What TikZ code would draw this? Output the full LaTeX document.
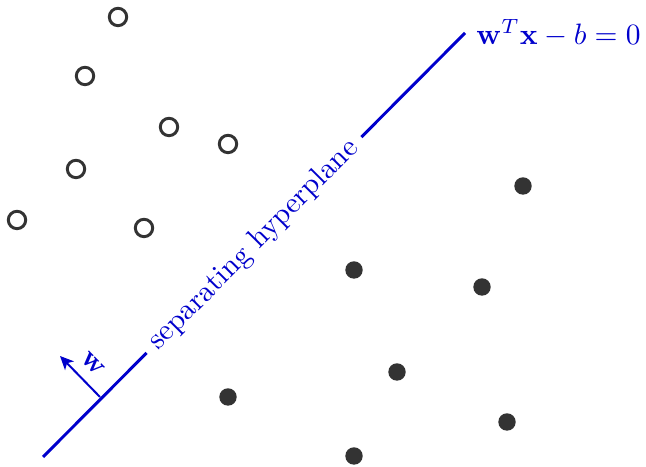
\documentclass[tikz,border=0pt]{standalone}
\usetikzlibrary{arrows.meta}
\definecolor{hyp}{RGB}{0,0,204}
\definecolor{ptc}{RGB}{51,51,51}
\begin{document}
\begin{tikzpicture}[x=0.339pt,y=-0.339pt,
  open/.style={circle,draw=ptc,line width=1pt,minimum size=5.9pt,inner sep=0pt},
  full/.style={circle,fill=ptc,minimum size=5.9pt,inner sep=0pt},
  hypline/.style={draw=hyp,line width=1pt},
  warrow/.style={draw=hyp,line width=0.68pt,-{Stealth[length=4.6pt,width=4.2pt,inset=1.2pt]}},
  lbl/.style={text=hyp}]
\useasboundingbox (0,0) rectangle (646,467);
% open points
\node[open] (o1) at (118,17) {};
\node[open] (o2) at (85,76) {};
\node[open] (o3) at (169,127) {};
\node[open] (o4) at (228,144) {};
\node[open] (o5) at (76,169) {};
\node[open] (o6) at (17,220) {};
\node[open] (o7) at (144,228) {};
% filled points
\node[full] (f1) at (523,186) {};
\node[full] (f2) at (354,270) {};
\node[full] (f3) at (482,287) {};
\node[full] (f4) at (397,372) {};
\node[full] (f5) at (228,397) {};
\node[full] (f6) at (507,422) {};
\node[full] (f7) at (354,456) {};
% hyperplane
\coordinate (h1) at (43,457);
\coordinate (h2) at (465,33);
\draw[hypline] (h1) -- node[sloped,fill=white,lbl] (hl) {separating hyperplane} (h2)
  node[right,lbl] (eq) {$\mathbf{w}^T\mathbf{x}-b=0$};
% normal vector
\coordinate (wf) at (100,397);
\coordinate (wt) at (60,356);
\draw[warrow] (wf) -- node[sloped,above,lbl] (wl) {$\mathbf{w}$} (wt);
\end{tikzpicture}
\end{document}
